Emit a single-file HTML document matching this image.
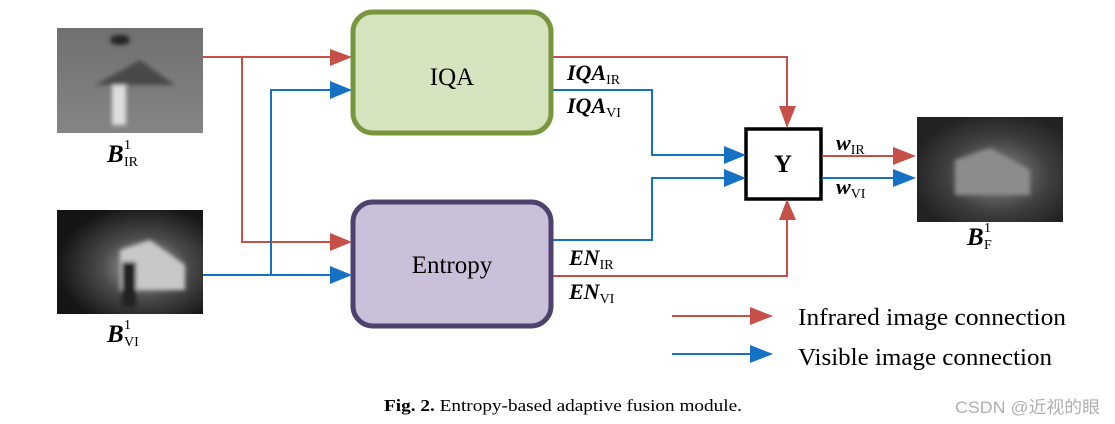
<!DOCTYPE html>
<html><head><meta charset="utf-8"><style>
html,body{margin:0;padding:0;background:#fff;}
svg{display:block;}
text{font-family:"Liberation Serif",serif;}
</style></head><body>
<svg width="1115" height="424" viewBox="0 0 1115 424" xmlns="http://www.w3.org/2000/svg">
<defs>
<linearGradient id="g1" x1="0" y1="0" x2="0" y2="1"><stop offset="0" stop-color="#707070"/><stop offset="1" stop-color="#858585"/></linearGradient>
<radialGradient id="g2" cx="0.6" cy="0.55" r="0.6"><stop offset="0" stop-color="#b0b0b0"/><stop offset="0.5" stop-color="#4a4a4a"/><stop offset="1" stop-color="#151515"/></radialGradient>
<radialGradient id="g3" cx="0.55" cy="0.55" r="0.6"><stop offset="0" stop-color="#8a8a8a"/><stop offset="0.6" stop-color="#3e3e3e"/><stop offset="1" stop-color="#222"/></radialGradient>
<filter id="bl"><feGaussianBlur stdDeviation="2"/></filter>
</defs>
<!-- images -->
<rect x="57" y="28" width="146" height="105" fill="url(#g1)"/>
<g filter="url(#bl)"><path d="M95,85 L140,60 L175,85 Z" fill="#4a4a4a"/><rect x="112" y="85" width="14" height="40" fill="#ddd"/><ellipse cx="120" cy="40" rx="10" ry="5" fill="#222"/></g>
<rect x="57" y="210" width="146" height="104" fill="url(#g2)"/>
<g filter="url(#bl)"><path d="M120,250 L150,240 L185,265 L185,290 L120,290 Z" fill="#c8c8c8"/><rect x="122" y="262" width="14" height="45" fill="#222"/></g>
<rect x="917" y="117" width="146" height="105" fill="url(#g3)"/>
<g filter="url(#bl)"><path d="M955,160 L990,148 L1030,170 L1030,195 L955,195 Z" fill="#8c8c8c"/></g>
<!-- boxes -->
<rect x="353" y="12" width="198" height="121" rx="20" fill="#d6e3bf" stroke="#78963e" stroke-width="5"/>
<rect x="353" y="202" width="198" height="124" rx="20" fill="#cbc0da" stroke="#4f416e" stroke-width="5"/>
<text x="452" y="85" font-size="25" text-anchor="middle">IQA</text>
<text x="452" y="273" font-size="25" text-anchor="middle">Entropy</text>
<rect x="746" y="129" width="75" height="70" fill="#fff" stroke="#000" stroke-width="3.5"/>
<text x="783" y="172" font-size="25" font-weight="bold" text-anchor="middle">Y</text>
<!-- red lines -->
<g fill="none" stroke="#c65048" stroke-width="2">
<path d="M203,57 H332"/><path d="M242,57 V242 H332"/>
<path d="M553,57 H787 V108"/><path d="M553,276 H787 V218"/>
<path d="M822,156 H896"/><path d="M672,316 H752"/>
</g>
<g fill="#c65048">
<polygon points="330,49 352,57 330,66"/><polygon points="330,233 352,242 330,251"/>
<polygon points="779,106 787,128 796,106"/><polygon points="779,220 787,199 796,220"/>
<polygon points="893,147 916,156 893,165"/><polygon points="750,307 773,316 750,325"/>
</g>
<!-- blue lines -->
<g fill="none" stroke="#1471c4" stroke-width="2">
<path d="M203,275 H332"/><path d="M271,275 V90 H332"/>
<path d="M553,90 H652 V155 H726"/><path d="M553,240 H652 V178 H726"/>
<path d="M822,178 H896"/><path d="M672,354 H752"/>
</g>
<g fill="#1471c4">
<polygon points="330,81 352,90 330,99"/><polygon points="330,266 352,275 330,284"/>
<polygon points="724,146 746,155 724,164"/><polygon points="724,169 746,178 724,187"/>
<polygon points="893,169 916,178 893,187"/><polygon points="750,345 773,354 750,363"/>
</g>
<!-- labels -->
<g font-size="22" font-weight="bold" font-style="italic">
<text x="567" y="80">IQA<tspan font-size="14" font-weight="normal" font-style="normal" dy="4">IR</tspan></text>
<text x="567" y="113">IQA<tspan font-size="14" font-weight="normal" font-style="normal" dy="4">VI</tspan></text>
<text x="569" y="265">EN<tspan font-size="14" font-weight="normal" font-style="normal" dy="4">IR</tspan></text>
<text x="569" y="299">EN<tspan font-size="14" font-weight="normal" font-style="normal" dy="4">VI</tspan></text>
<text x="836" y="150">w<tspan font-size="14" font-weight="normal" font-style="normal" dy="4">IR</tspan></text>
<text x="836" y="194">w<tspan font-size="14" font-weight="normal" font-style="normal" dy="4">VI</tspan></text>
</g>
<g font-size="25" font-weight="bold" font-style="italic">
<text x="107" y="162">B</text><text x="107" y="342">B</text><text x="967" y="245">B</text>
</g>
<g font-size="14">
<text x="124" y="149">1</text><text x="124" y="166">IR</text>
<text x="124" y="329">1</text><text x="124" y="346">VI</text>
<text x="984" y="232">1</text><text x="984" y="249">F</text>
</g>
<text x="798" y="325" font-size="24" textLength="268" lengthAdjust="spacingAndGlyphs">Infrared  image connection</text>
<text x="798" y="365" font-size="24" textLength="254" lengthAdjust="spacingAndGlyphs">Visible image connection</text>
<text x="384" y="411" font-size="17" textLength="358" lengthAdjust="spacingAndGlyphs"><tspan font-weight="bold">Fig. 2.</tspan> Entropy-based adaptive fusion module.</text>
<text x="955" y="413" font-size="17" fill="#b0b0b0" textLength="145" lengthAdjust="spacingAndGlyphs" style="font-family:'Liberation Sans','Noto Sans CJK SC',sans-serif">CSDN @近视的眼</text>
</svg>
</body></html>
